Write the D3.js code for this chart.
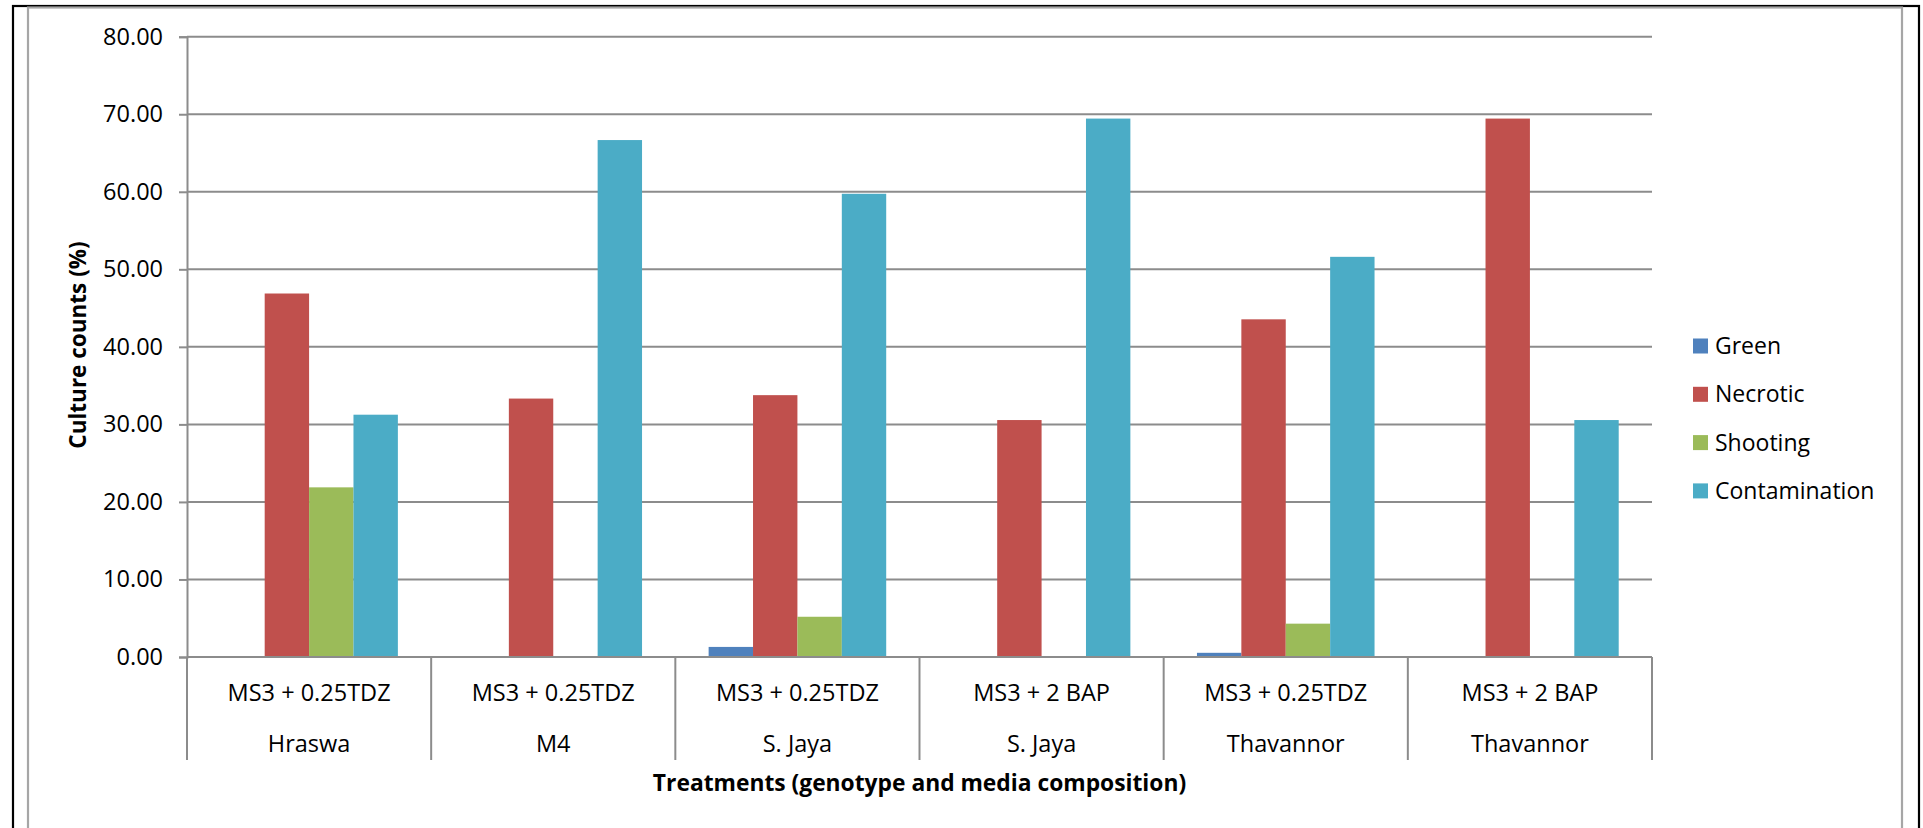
<!DOCTYPE html>
<html>
<head>
<meta charset="utf-8">
<script src="https://cdn.jsdelivr.net/npm/d3@7"></script>
<style>
  html, body { margin: 0; padding: 0; background: #ffffff; }
  svg { display: block; font-family: "Open Sans", "Noto Sans", sans-serif; }
</style>
</head>
<body>
<svg id="chart" width="1923" height="828"></svg>
<script>
// Treatment categories: media composition over genotype
const media = ["MS3 + 0.25TDZ", "MS3 + 0.25TDZ", "MS3 + 0.25TDZ", "MS3 + 2 BAP", "MS3 + 0.25TDZ", "MS3 + 2 BAP"];
const genotypes = ["Hraswa", "M4", "S. Jaya", "S. Jaya", "Thavannor", "Thavannor"];

// Series values (% of cultures)
const seriesNames = ["Green", "Necrotic", "Shooting", "Contamination"];
const green = [0, 0, 1.30, 0, 0.54, 0];
const necrotic = [46.88, 33.33, 33.77, 30.56, 43.55, 69.44];
const shooting = [21.88, 0, 5.19, 0, 4.30, 0];
const contamination = [31.25, 66.67, 59.74, 69.44, 51.61, 30.56];
const seriesColors = ["#4F81BD", "#C0504D", "#9BBB59", "#4BACC6"];

// Y axis ticks
const yTicks = [0, 10, 20, 30, 40, 50, 60, 70, 80];

const yTitle = "Culture counts (%)";
const xTitle = "Treatments (genotype and media composition)";

const seriesValues = [green, necrotic, shooting, contamination];
const idx = d3.range(media.length);

const svg = d3.select("#chart");

// Frame
svg.append("rect")
  .attr("x", 13).attr("y", 6).attr("width", 1906).attr("height", 900)
  .attr("fill", "none").attr("stroke", "#000").attr("stroke-width", 2.2);
svg.append("rect")
  .attr("x", 28).attr("y", 7.5).attr("width", 1874).attr("height", 900)
  .attr("fill", "none").attr("stroke", "#a6a6a6").attr("stroke-width", 2.2);

const plot = { left: 187, right: 1652, top: 36.7, bottom: 657 };

const x = d3.scaleBand()
  .domain(idx)
  .range([plot.left, plot.right])
  .paddingInner(0).paddingOuter(0);

// Four bars per category with a 150% gap split on both sides
const barW = x.bandwidth() / (seriesNames.length + 1.5);
const xs = d3.scaleBand()
  .domain(d3.range(seriesNames.length))
  .range([barW * 0.75, barW * 0.75 + barW * seriesNames.length])
  .padding(0);

const y = d3.scaleLinear().domain([0, 80]).range([plot.bottom, plot.top]);

const gridColor = "#8c8c8c";

// Horizontal gridlines
svg.append("g")
  .selectAll("line")
  .data(yTicks)
  .join("line")
  .attr("x1", plot.left).attr("x2", plot.right)
  .attr("y1", d => y(d)).attr("y2", d => y(d))
  .attr("stroke", gridColor).attr("stroke-width", 2);

// Y axis
const yAxis = svg.append("g")
  .attr("transform", `translate(${plot.left},0)`)
  .call(d3.axisLeft(y).tickValues(yTicks).tickFormat(d3.format(".2f")).tickSize(8).tickPadding(16));
yAxis.select(".domain").attr("stroke", gridColor).attr("stroke-width", 2);
yAxis.selectAll(".tick line").attr("stroke", gridColor).attr("stroke-width", 2);
yAxis.selectAll(".tick text")
  .attr("fill", "#000").attr("font-size", 23.5).attr("font-family", "'Open Sans', sans-serif");

// Bars
const groups = svg.append("g")
  .selectAll("g")
  .data(idx)
  .join("g")
  .attr("transform", i => `translate(${x(i)},0)`);

groups.selectAll("rect")
  .data(i => seriesValues.map((vals, s) => ({ s, v: vals[i] })))
  .join("rect")
  .attr("x", d => xs(d.s))
  .attr("width", xs.bandwidth())
  .attr("y", d => y(d.v))
  .attr("height", d => y(0) - y(d.v))
  .attr("fill", d => seriesColors[d.s]);

// X axis baseline
svg.append("line")
  .attr("x1", plot.left).attr("x2", plot.right)
  .attr("y1", y(0)).attr("y2", y(0))
  .attr("stroke", gridColor).attr("stroke-width", 2);

// Category dividers below the axis
const dividers = idx.map(i => x(i)).concat([plot.right]);
svg.append("g")
  .selectAll("line")
  .data(dividers)
  .join("line")
  .attr("x1", d => d).attr("x2", d => d)
  .attr("y1", y(0)).attr("y2", 760)
  .attr("stroke", gridColor).attr("stroke-width", 2);

// Two-level category labels
svg.append("g")
  .selectAll("text")
  .data(idx)
  .join("text")
  .attr("x", i => x(i) + x.bandwidth() / 2)
  .attr("y", 693)
  .attr("dy", "0.35em")
  .attr("text-anchor", "middle")
  .attr("font-size", 23.5)
  .text(i => media[i]);

svg.append("g")
  .selectAll("text")
  .data(idx)
  .join("text")
  .attr("x", i => x(i) + x.bandwidth() / 2)
  .attr("y", 744)
  .attr("dy", "0.35em")
  .attr("text-anchor", "middle")
  .attr("font-size", 23.5)
  .text(i => genotypes[i]);

// Axis titles
svg.append("text")
  .attr("x", (plot.left + plot.right) / 2)
  .attr("y", 783)
  .attr("dy", "0.35em")
  .attr("text-anchor", "middle")
  .attr("font-size", 22.8)
  .attr("font-weight", "bold")
  .text(xTitle);

svg.append("text")
  .attr("transform", `translate(78,345) rotate(-90)`)
  .attr("dy", "0.35em")
  .attr("text-anchor", "middle")
  .attr("font-size", 22.5)
  .attr("font-weight", "bold")
  .text(yTitle);

// Legend
const legend = svg.append("g")
  .selectAll("g")
  .data(seriesNames)
  .join("g")
  .attr("transform", (d, i) => `translate(1693,${346 + i * 48.3})`);
legend.append("rect")
  .attr("x", 0).attr("y", -7.5).attr("width", 15).attr("height", 15)
  .attr("fill", (d, i) => seriesColors[i]);
legend.append("text")
  .attr("x", 22).attr("y", 0).attr("dy", "0.35em")
  .attr("font-size", 23)
  .text(d => d);
</script>
</body>
</html>
